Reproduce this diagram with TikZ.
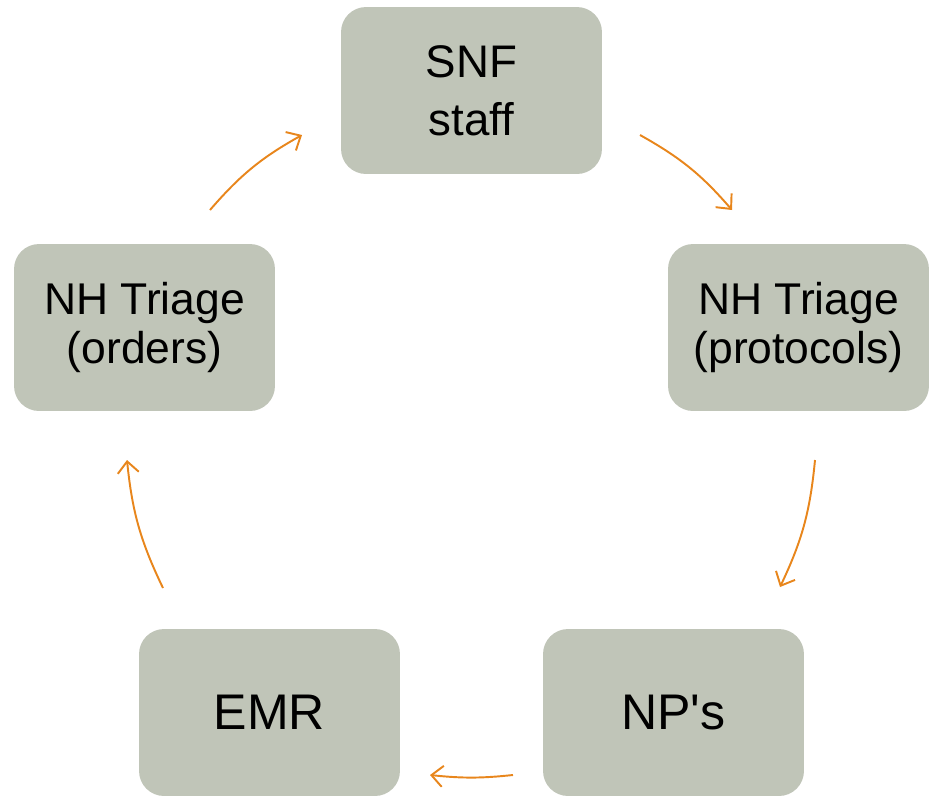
\documentclass[tikz,border=0pt]{standalone}
\usepackage{fontspec}
\setmainfont{Liberation Sans}
\usetikzlibrary{arrows.meta}

\definecolor{boxgray}{HTML}{C0C5B8}
\definecolor{arrorange}{HTML}{E8861C}

\begin{document}
\begin{tikzpicture}
	[x=0.02cm,y=-0.02cm,
	 every node/.style={fill=boxgray,rounded corners=0.5cm,minimum width=5.22cm,minimum height=3.34cm,align=center,inner sep=0pt},
	 snftext/.style={font=\fontsize{26}{33}\selectfont},
	 nhtext/.style={font=\fontsize{25.3}{28}\selectfont},
	 bigtext/.style={font=\fontsize{28.5}{32}\selectfont},
	 cycarrow/.style={draw=arrorange,line width=1.1pt,-{Straight Barb[length=6.5pt,width=12pt]}}]
	\useasboundingbox (0,0) rectangle (931,799);
	% boxes
	\node[snftext] (snf) at (471.5,90.5) {SNF\\staff};
	\node[nhtext] (protocols) at (798.5,327.5) {NH Triage\\(protocols)};
	\node[bigtext] (nps) at (673.5,712.5) {NP\textquotesingle s};
	\node[bigtext] (emr) at (269.5,712.5) {EMR};
	\node[nhtext] (orders) at (144.5,327.5) {NH Triage\\(orders)};
	% arrow ends
	\coordinate (o2s) at (210,210);  \coordinate (s2o) at (302,135);
	\coordinate (s2p) at (640,135);  \coordinate (p2s) at (732,210);
	\coordinate (p2n) at (815,460);  \coordinate (n2p) at (780,587);
	\coordinate (n2e) at (513,775);  \coordinate (e2n) at (430,775);
	\coordinate (e2o) at (163,588);  \coordinate (o2e) at (127,460);
	\draw[cycarrow] (o2s) to[bend left=10] (s2o);
	\draw[cycarrow] (s2p) to[bend left=10] (p2s);
	\draw[cycarrow] (p2n) to[bend left=10] (n2p);
	\draw[cycarrow] (n2e) to[bend left=6] (e2n);
	\draw[cycarrow] (e2o) to[bend left=10] (o2e);
\end{tikzpicture}
\end{document}
